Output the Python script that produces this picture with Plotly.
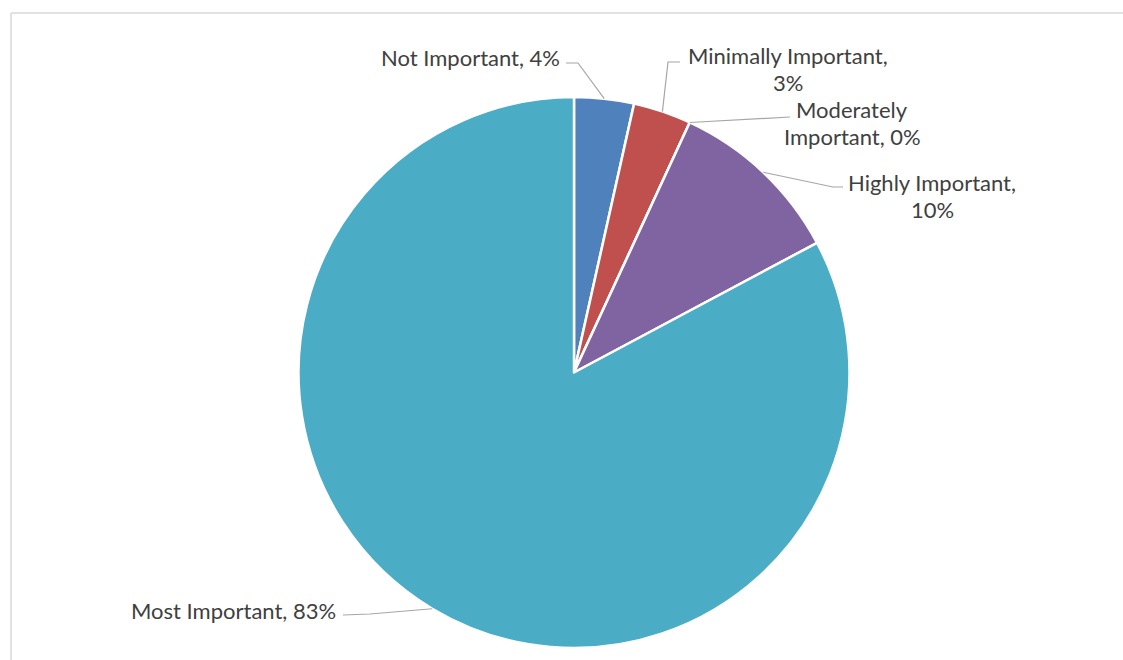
import math
import plotly.graph_objects as go

# Survey responses: importance rating, share of respondents (%)
categories = ["Not Important", "Minimally Important", "Moderately Important",
              "Highly Important", "Most Important"]
shares = [3.5, 3.4, 0.0, 10.3, 82.8]
colors = ["#4F81BD", "#C0504D", "#9BBB59", "#8064A2", "#4BACC6"]

W, H = 1123, 660
# pie placement in pixels
CX, CY, R = 574.0, 372.5, 275.5

def px(x):
    return x / W

def py(y):
    return 1 - y / H

fig = go.Figure(go.Pie(
    labels=categories,
    values=shares,
    sort=False,
    direction="clockwise",
    rotation=0,
    marker=dict(colors=colors, line=dict(color="white", width=2.5)),
    textinfo="none",
    hoverinfo="label+percent",
    showlegend=False,
    domain=dict(x=[px(CX - R), px(CX + R)], y=[py(CY + R), py(CY - R)]),
))

# label text and leader-line layout: (text lines, text anchor x, first line y,
# xanchor, elbow points from the text side toward the slice)
label_layout = [
    dict(lines=1, x=562, y=57, xanchor="right", elbow=[(566, 63), (578, 63)]),
    dict(lines=2, x=788, y=56, xanchor="center", elbow=[(680, 62), (668, 62)], brk="comma"),
    dict(lines=2, x=852, y=110, xanchor="center", elbow=[(790, 117)], brk="word"),
    dict(lines=2, x=932, y=182, xanchor="center", elbow=[(843, 187), (833, 187)], brk="comma"),
    dict(lines=1, x=338, y=610, xanchor="right", elbow=[(343, 615), (370, 614)]),
]
LINE_GAP = 27
TEXT_COLOR = "#404040"
LEADER = "#A6A6A6"

def wrap(text, mode):
    if mode == "comma":
        a, b = text.split(", ", 1)
        return [a + ",", b]
    first, rest = text.split(" ", 1)
    return [first, rest]

total = sum(shares)
cum = 0.0
for name, val, lay in zip(categories, shares, label_layout):
    mid = (cum + val / 2) / total * 2 * math.pi
    cum += val
    ax = CX + R * math.sin(mid)
    ay = CY - R * math.cos(mid)
    text = f"{name}, {int(val + 0.5)}%"
    parts = [text] if lay["lines"] == 1 else wrap(text, lay["brk"])
    for i, part in enumerate(parts):
        fig.add_annotation(
            x=px(lay["x"]), y=py(lay["y"] + i * LINE_GAP), xref="paper", yref="paper",
            text=part, showarrow=False, xanchor=lay["xanchor"], yanchor="middle",
            font=dict(family="Lato", size=22, color=TEXT_COLOR),
        )
    pts = lay["elbow"] + [(ax, ay)]
    path = "M " + " L ".join(f"{px(x):.5f},{py(y):.5f}" for x, y in pts)
    fig.add_shape(type="path", path=path, xref="paper", yref="paper",
                  line=dict(color=LEADER, width=1.2))

# chart-area border (left and top edges visible)
fig.add_shape(type="line", xref="paper", yref="paper",
              x0=px(11), y0=py(13), x1=1.0, y1=py(13),
              line=dict(color="#D9D9D9", width=1.5))
fig.add_shape(type="line", xref="paper", yref="paper",
              x0=px(11), y0=py(13), x1=px(11), y1=0.0,
              line=dict(color="#D9D9D9", width=1.5))

fig.update_layout(
    width=W, height=H,
    margin=dict(l=0, r=0, t=0, b=0),
    paper_bgcolor="white",
    plot_bgcolor="white",
)

fig.write_html("out.html")
